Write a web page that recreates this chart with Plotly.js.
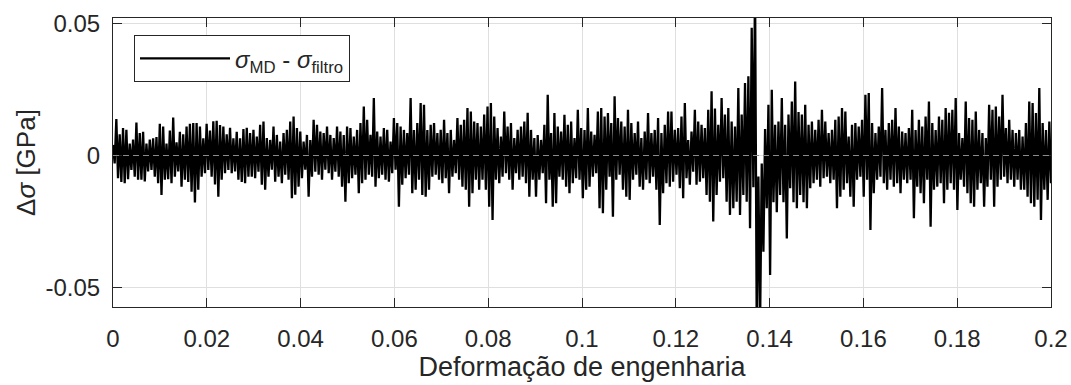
<!DOCTYPE html>
<html>
<head>
<meta charset="utf-8">
<script src="https://cdn.plot.ly/plotly-3.0.1.min.js"></script>
<style>html,body{margin:0;padding:0;background:#fff;}#chart{width:1071px;height:385px;}</style>
</head>
<body>
<div id="chart"></div>
<script>
// Strain range of the record (engineering strain)
const strainStart = 0.0;
const strainEnd = 0.2;

// Upper excursions of Δσ = σ_MD − σ_filtro [GPa], one per narrow strain bin
const upperPeaks = [
 0.0040,0.0138,0.0080,0.0104,0.0097,0.0045,0.0060,0.0125,0.0085,0.0090,0.0045,0.0060,0.0065,0.0070,0.0120,0.0110,0.0045,0.0095,0.0144,0.0050,0.0090,0.0080,0.0110,0.0120,0.0123,0.0123,0.0110,0.0065,0.0120,0.0095,0.0130,0.0132,0.0115,0.0110,0.0080,0.0105,0.0065,0.0090,0.0065,0.0100,0.0105,
 0.0085,0.0097,0.0072,0.0116,0.0129,0.0066,0.0059,0.0110,0.0078,0.0053,0.0085,0.0097,0.0129,0.0148,0.0104,0.0091,0.0053,0.0078,0.0059,0.0135,0.0116,0.0091,0.0085,0.0110,0.0078,0.0066,0.0110,0.0091,0.0078,0.0110,0.0104,0.0072,0.0097,0.0123,0.0186,0.0135,0.0078,0.0218,0.0091,0.0072,0.0104,0.0097,
 0.0053,0.0142,0.0123,0.0110,0.0097,0.0085,0.0218,0.0097,0.0123,0.0199,0.0192,0.0097,0.0116,0.0123,0.0085,0.0097,0.0135,0.0085,0.0097,0.0059,0.0142,0.0116,0.0135,0.0180,0.0167,0.0129,0.0123,0.0110,0.0155,0.0186,0.0199,0.0148,0.0104,0.0072,0.0167,0.0110,0.0123,0.0066,0.0097,0.0110,0.0129,0.0162,
 0.0097,0.0066,0.0078,0.0059,0.0116,0.0230,0.0085,0.0161,0.0110,0.0091,0.0154,0.0116,0.0129,0.0066,0.0173,0.0104,0.0097,0.0180,0.0091,0.0078,0.0167,0.0180,0.0148,0.0161,0.0123,0.0224,0.0142,0.0129,0.0110,0.0173,0.0123,0.0085,0.0129,0.0066,0.0091,0.0161,0.0085,0.0097,0.0142,0.0085,0.0116,0.0167,
 0.0167,0.0097,0.0104,0.0148,0.0199,0.0059,0.0091,0.0173,0.0129,0.0116,0.0104,0.0173,0.0243,0.0178,0.0116,0.0218,0.0155,0.0180,0.0129,0.0110,0.0256,0.0155,0.0275,0.0300,0.0484,0.0650,-0.0080,-0.0030,0.0100,0.0192,0.0249,0.0116,0.0129,0.0218,0.0116,0.0155,0.0205,0.0280,0.0165,0.0155,0.0192,0.0116,
 0.0129,0.0097,0.0135,0.0173,0.0129,0.0085,0.0097,0.0135,0.0148,0.0180,0.0167,0.0072,0.0116,0.0123,0.0110,0.0135,0.0230,0.0237,0.0123,0.0085,0.0110,0.0256,0.0097,0.0123,0.0135,0.0180,0.0110,0.0091,0.0085,0.0104,0.0173,0.0097,0.0135,0.0110,0.0148,0.0205,0.0123,0.0097,0.0148,0.0135,0.0180,0.0162,
 0.0173,0.0218,0.0085,0.0066,0.0205,0.0142,0.0135,0.0167,0.0097,0.0085,0.0066,0.0192,0.0173,0.0186,0.0148,0.0230,0.0104,0.0135,0.0097,0.0085,0.0097,0.0072,0.0123,0.0205,0.0199,0.0161,0.0256,0.0123,0.0097,0.0129
];

// Lower excursions of Δσ [GPa], same bins
const lowerPeaks = [
 -0.0030,-0.0086,-0.0100,-0.0105,-0.0090,-0.0055,-0.0080,-0.0092,-0.0092,-0.0098,-0.0060,-0.0055,-0.0080,-0.0105,-0.0150,-0.0092,-0.0090,-0.0105,-0.0080,-0.0060,-0.0118,-0.0092,-0.0100,-0.0137,-0.0178,-0.0130,-0.0080,-0.0067,-0.0055,-0.0080,-0.0110,-0.0156,-0.0092,-0.0067,-0.0055,-0.0067,-0.0060,-0.0092,-0.0100,-0.0105,-0.0080,
 -0.0080,-0.0086,-0.0061,-0.0111,-0.0130,-0.0080,-0.0054,-0.0099,-0.0080,-0.0105,-0.0073,-0.0092,-0.0162,-0.0149,-0.0118,-0.0086,-0.0054,-0.0156,-0.0080,-0.0061,-0.0073,-0.0092,-0.0054,-0.0067,-0.0092,-0.0061,-0.0080,-0.0118,-0.0175,-0.0105,-0.0086,-0.0073,-0.0143,-0.0105,-0.0092,-0.0073,-0.0080,-0.0118,-0.0086,-0.0073,-0.0092,-0.0099,
 -0.0067,-0.0054,-0.0194,-0.0111,-0.0086,-0.0073,-0.0143,-0.0130,-0.0092,-0.0150,-0.0156,-0.0130,-0.0080,-0.0073,-0.0092,-0.0105,-0.0086,-0.0143,-0.0080,-0.0067,-0.0092,-0.0118,-0.0130,-0.0194,-0.0143,-0.0092,-0.0130,-0.0092,-0.0130,-0.0194,-0.0244,-0.0092,-0.0105,-0.0080,-0.0067,-0.0092,-0.0130,-0.0067,-0.0092,-0.0080,-0.0105,-0.0156,
 -0.0092,-0.0156,-0.0092,-0.0067,-0.0181,-0.0092,-0.0194,-0.0181,-0.0080,-0.0092,-0.0118,-0.0143,-0.0105,-0.0086,-0.0092,-0.0162,-0.0130,-0.0118,-0.0080,-0.0067,-0.0200,-0.0219,-0.0130,-0.0080,-0.0232,-0.0092,-0.0073,-0.0130,-0.0156,-0.0168,-0.0092,-0.0073,-0.0118,-0.0130,-0.0092,-0.0105,-0.0080,-0.0130,-0.0263,-0.0143,-0.0105,-0.0118,
 -0.0099,-0.0073,-0.0124,-0.0162,-0.0086,-0.0111,-0.0061,-0.0111,-0.0099,-0.0086,-0.0150,-0.0175,-0.0250,-0.0150,-0.0099,-0.0086,-0.0175,-0.0225,-0.0200,-0.0175,-0.0225,-0.0150,-0.0175,-0.0276,-0.0120,-0.0650,-0.0650,-0.0365,-0.0200,-0.0453,-0.0177,-0.0215,-0.0150,-0.0177,-0.0314,-0.0124,-0.0177,-0.0200,-0.0150,-0.0177,-0.0200,-0.0124,
 -0.0105,-0.0092,-0.0118,-0.0086,-0.0080,-0.0105,-0.0092,-0.0200,-0.0156,-0.0130,-0.0105,-0.0156,-0.0194,-0.0092,-0.0080,-0.0156,-0.0092,-0.0282,-0.0143,-0.0092,-0.0080,-0.0105,-0.0130,-0.0092,-0.0118,-0.0105,-0.0143,-0.0092,-0.0105,-0.0092,-0.0238,-0.0118,-0.0143,-0.0181,-0.0092,-0.0270,-0.0130,-0.0118,-0.0105,-0.0181,-0.0130,-0.0105,
 -0.0130,-0.0206,-0.0092,-0.0118,-0.0143,-0.0181,-0.0194,-0.0130,-0.0105,-0.0194,-0.0118,-0.0092,-0.0194,-0.0118,-0.0092,-0.0080,-0.0105,-0.0092,-0.0118,-0.0092,-0.0130,-0.0130,-0.0156,-0.0181,-0.0194,-0.0168,-0.0244,-0.0130,-0.0168,-0.0105
];

// Axis ticks
const xTickVals = [0, 0.02, 0.04, 0.06, 0.08, 0.1, 0.12, 0.14, 0.16, 0.18, 0.2];
const xTickText = ["0", "0.02", "0.04", "0.06", "0.08", "0.1", "0.12", "0.14", "0.16", "0.18", "0.2"];
const yTickVals = [-0.05, 0, 0.05];
const yTickText = ["-0.05", "0", "0.05"];

// Build the signal: each bin contributes its upper and then its lower excursion
const strain = [];
const dsigma = [];
const nPts = upperPeaks.length * 2;
const step = (strainEnd - strainStart) / (nPts - 1);
for (let i = 0; i < upperPeaks.length; i++) {
  strain.push(strainStart + (2 * i) * step);
  dsigma.push(upperPeaks[i]);
  strain.push(strainStart + (2 * i + 1) * step);
  dsigma.push(lowerPeaks[i]);
}

const FONT = '"Liberation Sans", Arial, Helvetica, sans-serif';
const TXT = '#262626';

const trace = {
  x: strain, y: dsigma, type: 'scatter', mode: 'lines',
  line: {color: '#000000', width: 2.3},
  name: '<i>σ</i><sub>MD</sub> - <i>σ</i><sub>filtro</sub>',
  showlegend: true
};

const layout = {
  width: 1071, height: 385,
  margin: {l: 113, r: 20, t: 18, b: 78, pad: 0},
  paper_bgcolor: '#ffffff', plot_bgcolor: '#ffffff',
  font: {family: FONT, color: TXT, size: 24},
  showlegend: true,
  legend: {
    x: 0.0224, y: 0.94, xanchor: 'left', yanchor: 'top',
    bgcolor: '#ffffff', bordercolor: '#262626', borderwidth: 1,
    font: {family: FONT, size: 24, color: TXT},
    itemwidth: 90
  },
  xaxis: {
    range: [0, 0.2], tickvals: xTickVals, ticktext: xTickText,
    ticks: 'inside', ticklen: 9, tickwidth: 1, tickcolor: TXT,
    showline: true, linecolor: TXT, linewidth: 1, mirror: 'allticks',
    showgrid: true, gridcolor: '#dfdfdf', gridwidth: 1, zeroline: false,
    tickfont: {family: FONT, size: 24, color: TXT},
    ticklabelstandoff: 10,
    title: {text: 'Deformação de engenharia', font: {family: FONT, size: 27, color: TXT}, standoff: 5}
  },
  yaxis: {
    range: [-0.0574, 0.0521], tickvals: yTickVals, ticktext: yTickText,
    ticks: 'inside', ticklen: 9, tickwidth: 1, tickcolor: TXT,
    showline: true, linecolor: TXT, linewidth: 1, mirror: 'allticks',
    showgrid: true, gridcolor: '#dfdfdf', gridwidth: 1, zeroline: false,
    tickfont: {family: FONT, size: 24, color: TXT},
    ticklabelstandoff: 7,
    title: {text: 'Δ<i>σ</i> [GPa]', font: {family: FONT, size: 26, color: TXT}, standoff: 2}
  },
  shapes: [{
    type: 'line', xref: 'paper', yref: 'y', x0: 0, x1: 1, y0: 0, y1: 0,
    line: {color: '#8c8c8c', width: 1, dash: '6px,4px'}, layer: 'above'
  }]
};

Plotly.newPlot('chart', [trace], layout, {staticPlot: true, displayModeBar: false});
</script>
</body>
</html>
